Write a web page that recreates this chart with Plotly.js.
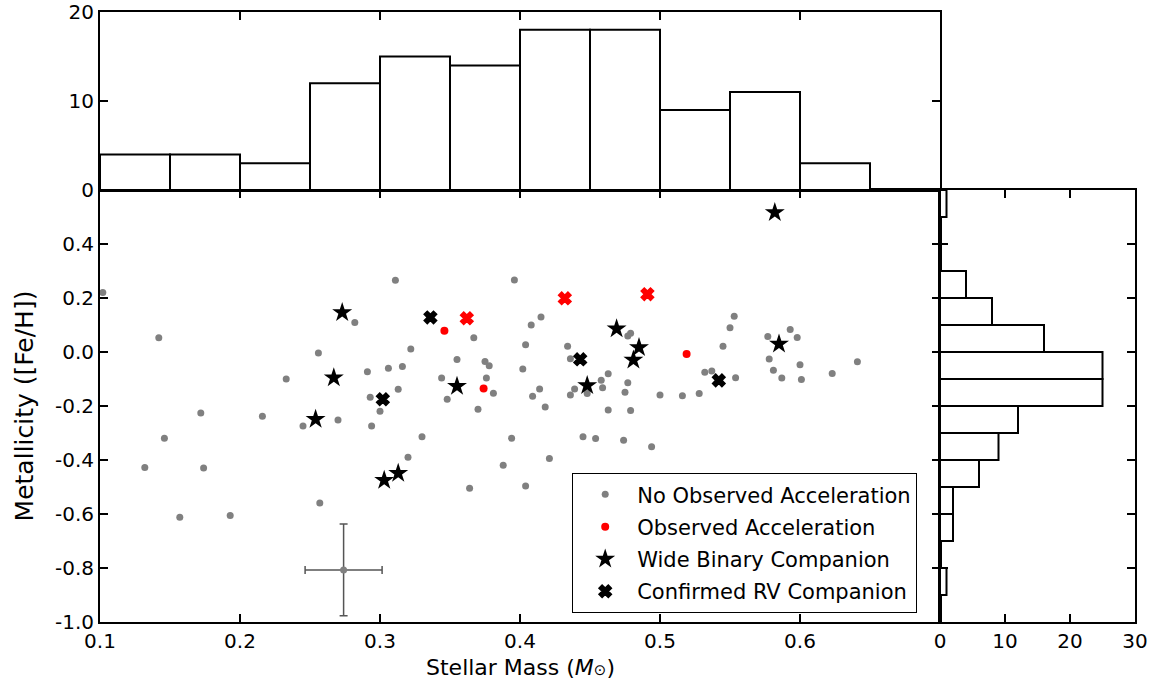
<!DOCTYPE html>
<html><head><meta charset="utf-8">
<script src="https://cdn.plot.ly/plotly-3.0.1.min.js"></script>
<style>html,body{margin:0;padding:0;background:#fff}#chart{width:1155px;height:682px}</style>
</head><body><div id="chart"></div>
<script>
// ---- data ----
const noAccMass = [0.102,0.142,0.282,0.256,0.291,0.306,0.233,0.293,0.300,0.172,0.216,0.245,0.270,0.294,0.146,0.132,0.174,0.257,0.157,0.193,
  0.311,0.396,0.367,0.415,0.408,0.322,0.477,0.479,0.404,0.434,0.436,0.316,0.355,0.375,0.378,0.402,0.344,0.376,0.381,0.313,
  0.348,0.370,0.414,0.409,0.418,0.439,0.436,0.448,0.458,0.463,0.459,0.477,0.475,0.463,0.479,0.500,0.516,0.528,0.553,0.550,
  0.545,0.593,0.577,0.598,0.578,0.581,0.600,0.587,0.601,0.623,0.641,0.532,0.537,0.554,0.330,0.394,0.445,0.454,0.474,0.494,
  0.320,0.388,0.421,0.364,0.404];
const noAccFeH = [0.220,0.053,0.109,-0.004,-0.073,-0.060,-0.100,-0.168,-0.219,-0.226,-0.238,-0.274,-0.252,-0.274,-0.319,-0.428,-0.430,-0.559,-0.612,-0.606,
  0.266,0.267,0.053,0.130,0.100,0.011,0.059,0.069,0.027,0.021,-0.025,-0.054,-0.028,-0.035,-0.051,-0.063,-0.096,-0.096,-0.153,-0.138,
  -0.175,-0.212,-0.137,-0.164,-0.204,-0.137,-0.159,-0.154,-0.105,-0.081,-0.132,-0.114,-0.149,-0.215,-0.217,-0.159,-0.162,-0.154,0.132,0.090,
  0.021,0.083,0.057,0.054,-0.026,-0.068,-0.047,-0.096,-0.102,-0.080,-0.036,-0.075,-0.070,-0.095,-0.314,-0.319,-0.314,-0.320,-0.327,-0.351,
  -0.390,-0.419,-0.394,-0.505,-0.496];
const accMass = [0.346,0.374,0.519];
const accFeH = [0.079,-0.135,-0.007];
const wideMass = [0.273,0.267,0.254,0.303,0.313,0.355,0.469,0.485,0.481,0.448,0.582,0.585];
const wideFeH = [0.146,-0.095,-0.249,-0.475,-0.449,-0.127,0.086,0.017,-0.030,-0.124,0.517,0.030];
const rvMass = [0.336,0.302,0.443,0.542];
const rvFeH = [0.128,-0.175,-0.027,-0.105];
const rvAccMass = [0.362,0.432,0.491];
const rvAccFeH = [0.125,0.199,0.214];
const errMass = [0.274];
const errFeH = [-0.807];
const errMassSigma = [0.0275];
const errFeHSigma = [0.17];
const massBinEdges = [0.10,0.15,0.20,0.25,0.30,0.35,0.40,0.45,0.50,0.55,0.60,0.65];
const massCounts = [4,4,3,12,15,14,18,18,9,11,3];
const fehBinEdges = [-0.9,-0.8,-0.7,-0.6,-0.5,-0.4,-0.3,-0.2,-0.1,0.0,0.1,0.2,0.3,0.4,0.5,0.6];
const fehCounts = [1,0,2,2,6,9,12,25,25,16,8,4,0,0,1];
const massTicks = [0.1,0.2,0.3,0.4,0.5,0.6];
const massTickText = ['0.1','0.2','0.3','0.4','0.5','0.6'];
const fehTicks = [-1.0,-0.8,-0.6,-0.4,-0.2,0.0,0.2,0.4];
const fehTickText = ['-1.0','-0.8','-0.6','-0.4','-0.2','0.0','0.2','0.4'];
const countTicksTop = [0,10,20];
const countTicksRight = [0,10,20,30];
const xTitle = "Stellar Mass (<i>M</i><span style='font-size:15px'>⊙</span>)";
const yTitle = 'Metallicity ([Fe/H])';

// ---- helpers ----
const centers = e => e.slice(0,-1).map((v,i)=>(v+e[i+1])/2);
const widths = e => e.slice(0,-1).map((v,i)=>e[i+1]-v);
const W = 1155, H = 682;
const fx = p => p/W, fy = p => 1 - p/H;
const FONT = 'DejaVu Sans, sans-serif';
const GRAY = '#808080';
const TICKSIZE = 20;

const traces = [
  {type:'scatter', mode:'markers', x:noAccMass, y:noAccFeH, name:'No Observed Acceleration',
   marker:{color:GRAY, size:7}, xaxis:'x', yaxis:'y', legendgroup:'a'},
  {type:'scatter', mode:'markers', x:accMass, y:accFeH, name:'Observed Acceleration',
   marker:{color:'#ff0000', size:8}, xaxis:'x', yaxis:'y', legendgroup:'b'},
  {type:'scatter', mode:'markers', x:wideMass, y:wideFeH, name:'Wide Binary Companion',
   marker:{color:'#000', size:15, symbol:'star'}, xaxis:'x', yaxis:'y', legendgroup:'c'},
  {type:'scatter', mode:'markers', x:rvMass, y:rvFeH, name:'Confirmed RV Companion',
   marker:{color:'#000', size:11, symbol:'x', line:{color:'#000', width:1.5}}, xaxis:'x', yaxis:'y', legendgroup:'d'},
  {type:'scatter', mode:'markers', x:rvAccMass, y:rvAccFeH, showlegend:false,
   marker:{color:'#ff0000', size:11, symbol:'x', line:{color:'#ff0000', width:1.5}}, xaxis:'x', yaxis:'y'},
  {type:'scatter', mode:'markers', x:errMass, y:errFeH, showlegend:false,
   marker:{color:GRAY, size:7},
   error_x:{type:'data', array:errMassSigma, color:'#555', thickness:1.5, width:4},
   error_y:{type:'data', array:errFeHSigma, color:'#555', thickness:1.5, width:4},
   xaxis:'x', yaxis:'y'},
  {type:'bar', x:centers(massBinEdges), y:massCounts, width:widths(massBinEdges), showlegend:false,
   marker:{color:'#fff', line:{color:'#000', width:2}}, xaxis:'x2', yaxis:'y2', hoverinfo:'skip'},
  {type:'bar', orientation:'h', y:centers(fehBinEdges), x:fehCounts, width:widths(fehBinEdges), showlegend:false,
   marker:{color:'#fff', line:{color:'#000', width:2}}, xaxis:'x3', yaxis:'y3', hoverinfo:'skip'}
];

const axBase = {showgrid:false, zeroline:false, showline:true, linecolor:'#000', linewidth:2,
  mirror:'allticks', ticks:'inside', ticklen:8, tickwidth:1.2, tickcolor:'#000',
  tickfont:{family:FONT, size:TICKSIZE, color:'#000'}, fixedrange:true};

const layout = {
  width:W, height:H, margin:{l:0,r:0,t:0,b:0}, paper_bgcolor:'#fff', plot_bgcolor:'#fff',
  font:{family:FONT, color:'#000'}, barmode:'overlay', bargap:0,
  xaxis:Object.assign({}, axBase, {domain:[fx(100), fx(940)], anchor:'y', range:[0.1,0.7],
    tickmode:'array', tickvals:massTicks, ticktext:massTickText}),
  yaxis:Object.assign({}, axBase, {domain:[fy(622), fy(190)], anchor:'x', range:[-1.0,0.6],
    tickmode:'array', tickvals:fehTicks, ticktext:fehTickText,
    title:{text:yTitle, font:{family:FONT, size:25}, standoff:14}}),
  xaxis2:Object.assign({}, axBase, {domain:[fx(100), fx(940)], anchor:'y2', range:[0.1,0.7],
    tickmode:'array', tickvals:massTicks, showticklabels:false}),
  yaxis2:Object.assign({}, axBase, {domain:[fy(190), fy(12)], anchor:'x2', range:[0,20],
    tickmode:'array', tickvals:countTicksTop}),
  xaxis3:Object.assign({}, axBase, {domain:[fx(940), fx(1135)], anchor:'y3', range:[0,30],
    tickmode:'array', tickvals:countTicksRight}),
  yaxis3:Object.assign({}, axBase, {domain:[fy(622), fy(190)], anchor:'x3', range:[-1.0,0.6],
    tickmode:'array', tickvals:fehTicks, showticklabels:false}),
  annotations:[{text:xTitle, xref:'paper', yref:'paper', x:fx(520), y:0,
    xanchor:'center', yanchor:'bottom', showarrow:false, font:{family:FONT, size:22, color:'#000'}}],
  showlegend:true,
  legend:{x:fx(572), y:fy(473), xanchor:'left', yanchor:'top', bgcolor:'#fff',
    bordercolor:'#000', borderwidth:1.2, font:{family:FONT, size:21, color:'#000'},
    traceorder:'grouped', tracegroupgap:2, itemwidth:54}
};

Plotly.newPlot('chart', traces, layout, {staticPlot:true, displayModeBar:false});
</script>
</body></html>
